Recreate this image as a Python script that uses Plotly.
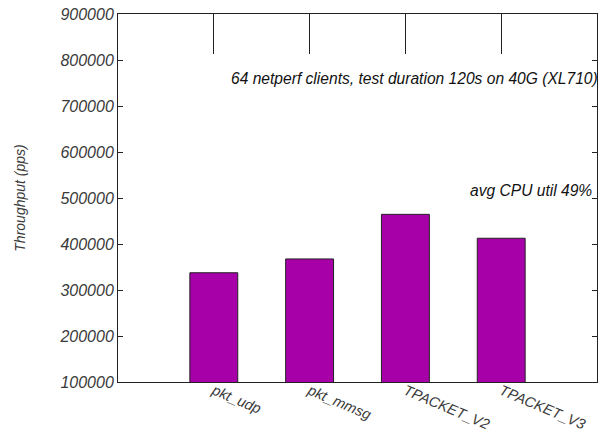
import plotly.graph_objects as go

# Packet capture methods and measured throughput (packets per second)
methods = ["pkt_udp", "pkt_mmsg", "TPACKET_V2", "TPACKET_V3"]
throughput_pps = [337500, 367500, 464500, 412500]
y_ticks = [100000, 200000, 300000, 400000, 500000, 600000, 700000, 800000, 900000]

FONT = "Liberation Sans, Arial, sans-serif"
BAR_COLOR = "#a800a8"
TEXT_COLOR = "#3a3a3a"

fig = go.Figure()
fig.add_trace(go.Bar(
    x=list(range(len(methods))),
    y=throughput_pps,
    width=0.5,
    marker=dict(color=BAR_COLOR, line=dict(color="#222222", width=1)),
    showlegend=False,
))

fig.update_layout(
    width=603, height=432,
    margin=dict(l=118, r=6, t=14, b=50),
    paper_bgcolor="white", plot_bgcolor="white",
    font=dict(family=FONT, color=TEXT_COLOR),
    xaxis=dict(
        range=[-1, 4],
        automargin=False,
        tickmode="array",
        tickvals=list(range(len(methods))),
        ticktext=[f"<i>{m}</i>" for m in methods],
        tickangle=23,
        ticklabelstandoff=-6,
        ticks="inside", ticklen=40, tickcolor="#222222",
        showline=True, linecolor="#222222", linewidth=1, mirror="ticks",
        showgrid=False, zeroline=False,
        tickfont=dict(size=14.5, color=TEXT_COLOR),
        layer="below traces",
    ),
    yaxis=dict(
        range=[100000, 900000],
        automargin=False,
        tickmode="array",
        tickvals=y_ticks,
        ticktext=[f"<i>{v}</i>" for v in y_ticks],
        ticks="inside", ticklen=5, tickcolor="#222222",
        showline=True, linecolor="#222222", linewidth=1, mirror="ticks",
        showgrid=False, zeroline=False,
        tickfont=dict(size=16, color=TEXT_COLOR),
        title=dict(text="<i>Throughput (pps)</i>", font=dict(size=14, color=TEXT_COLOR), standoff=30),
        layer="below traces",
    ),
    annotations=[
        dict(x=0.155, y=760000, xref="x", yref="y", xanchor="left", yanchor="middle",
             text="<i>64 netperf clients, test duration 120s on 40G (XL710)</i>",
             showarrow=False, font=dict(size=15.6, color="#111111")),
        dict(x=3.97, y=516000, xref="x", yref="y", xanchor="right", yanchor="middle",
             text="<i>avg CPU util 49%</i>",
             showarrow=False, font=dict(size=15.6, color="#111111")),
    ],
)

fig.write_html("out.html")
